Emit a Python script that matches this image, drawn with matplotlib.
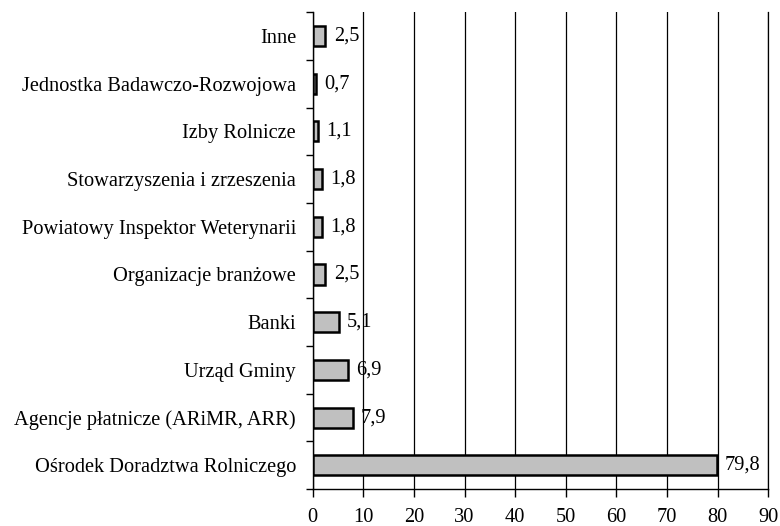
import matplotlib.pyplot as plt
import numpy as np

plt.rcParams['font.family'] = ['Liberation Serif', 'DejaVu Serif']

categories = [
    "Ośrodek Doradztwa Rolniczego",
    "Agencje płatnicze (ARiMR, ARR)",
    "Urząd Gminy",
    "Banki",
    "Organizacje branżowe",
    "Powiatowy Inspektor Weterynarii",
    "Stowarzyszenia i zrzeszenia",
    "Izby Rolnicze",
    "Jednostka Badawczo-Rozwojowa",
    "Inne",
]
values = [79.8, 7.9, 6.9, 5.1, 2.5, 1.8, 1.8, 1.1, 0.7, 2.5]
xticks = [0, 10, 20, 30, 40, 50, 60, 70, 80, 90]

fig = plt.figure(figsize=(7.8, 5.26), dpi=100)
ax = fig.add_axes([0.401, 0.070, 0.584, 0.907])

y = np.arange(len(categories))
ax.barh(y, values, height=0.42, color="#c0c0c0", edgecolor="black", linewidth=1.8, zorder=3)

for yi, v in zip(y, values):
    ax.annotate(f"{v:.1f}".replace(".", ","), (v, yi), xytext=(6, 0),
                textcoords="offset points", va="center", ha="left", fontsize=14.7)

ax.set_xlim(0, 90)
ax.set_ylim(-0.5, len(categories) - 0.5)
ax.set_xticks(xticks)
ax.set_xticklabels([str(t) for t in xticks], fontsize=14.7)
ax.set_yticks(y)
ax.set_yticklabels(categories, fontsize=14.7)
ax.tick_params(axis="y", length=0, pad=12)
ax.set_yticks(np.arange(-0.5, len(categories), 1), minor=True)
ax.tick_params(axis="y", which="minor", length=5, width=1, direction="out")
ax.tick_params(axis="x", length=6, width=1, direction="out", pad=7.5)

ax.grid(axis="x", color="black", linewidth=0.9, zorder=0)
ax.axvline(90, color="black", linewidth=0.9, clip_on=False, zorder=0)
for s in ["top", "right"]:
    ax.spines[s].set_visible(False)
ax.spines["left"].set_linewidth(1)
ax.spines["bottom"].set_linewidth(1)

fig.savefig("out.png", dpi=100)
